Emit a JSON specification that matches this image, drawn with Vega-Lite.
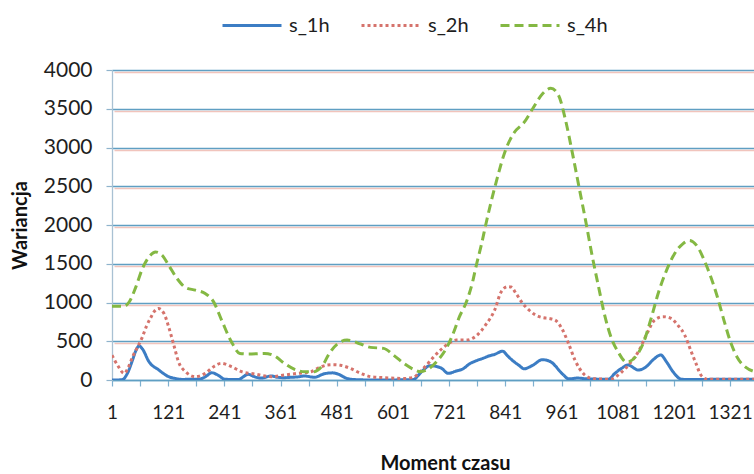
{
  "$schema": "https://vega.github.io/schema/vega-lite/v6.json",
  "width": 642,
  "height": 310,
  "autosize": {"type": "none"},
  "padding": {"left": 112, "top": 70, "right": 0, "bottom": 94},
  "background": "white",
  "config": {"view": {"stroke": null}, "font": "Lato"},
  "datasets": {
    "series": [
      {"s":"s_1h","t":1,"v":0},{"s":"s_1h","t":10,"v":0},{"s":"s_1h","t":23,"v":5},{"s":"s_1h","t":35,"v":100},{"s":"s_1h","t":45,"v":260},{"s":"s_1h","t":52,"v":380},{"s":"s_1h","t":59,"v":440},{"s":"s_1h","t":66,"v":400},{"s":"s_1h","t":80,"v":236},{"s":"s_1h","t":101,"v":129},{"s":"s_1h","t":122,"v":43},{"s":"s_1h","t":136,"v":20},{"s":"s_1h","t":150,"v":8},{"s":"s_1h","t":186,"v":10},{"s":"s_1h","t":200,"v":40},{"s":"s_1h","t":214,"v":94},{"s":"s_1h","t":228,"v":60},{"s":"s_1h","t":242,"v":10},{"s":"s_1h","t":270,"v":5},{"s":"s_1h","t":292,"v":73},{"s":"s_1h","t":306,"v":40},{"s":"s_1h","t":320,"v":25},{"s":"s_1h","t":341,"v":52},{"s":"s_1h","t":355,"v":35},{"s":"s_1h","t":369,"v":30},{"s":"s_1h","t":383,"v":35},{"s":"s_1h","t":398,"v":40},{"s":"s_1h","t":412,"v":52},{"s":"s_1h","t":433,"v":35},{"s":"s_1h","t":454,"v":80},{"s":"s_1h","t":472,"v":92},{"s":"s_1h","t":482,"v":80},{"s":"s_1h","t":503,"v":20},{"s":"s_1h","t":520,"v":5},{"s":"s_1h","t":560,"v":0},{"s":"s_1h","t":645,"v":5},{"s":"s_1h","t":655,"v":60},{"s":"s_1h","t":666,"v":129},{"s":"s_1h","t":680,"v":185},{"s":"s_1h","t":694,"v":175},{"s":"s_1h","t":705,"v":150},{"s":"s_1h","t":719,"v":86},{"s":"s_1h","t":736,"v":116},{"s":"s_1h","t":750,"v":142},{"s":"s_1h","t":765,"v":210},{"s":"s_1h","t":779,"v":249},{"s":"s_1h","t":793,"v":279},{"s":"s_1h","t":807,"v":313},{"s":"s_1h","t":818,"v":330},{"s":"s_1h","t":835,"v":372},{"s":"s_1h","t":846,"v":310},{"s":"s_1h","t":856,"v":253},{"s":"s_1h","t":870,"v":190},{"s":"s_1h","t":881,"v":145},{"s":"s_1h","t":899,"v":188},{"s":"s_1h","t":920,"v":262},{"s":"s_1h","t":938,"v":235},{"s":"s_1h","t":948,"v":180},{"s":"s_1h","t":955,"v":130},{"s":"s_1h","t":966,"v":60},{"s":"s_1h","t":976,"v":15},{"s":"s_1h","t":996,"v":25},{"s":"s_1h","t":1014,"v":15},{"s":"s_1h","t":1061,"v":10},{"s":"s_1h","t":1075,"v":86},{"s":"s_1h","t":1089,"v":150},{"s":"s_1h","t":1103,"v":193},{"s":"s_1h","t":1125,"v":129},{"s":"s_1h","t":1142,"v":172},{"s":"s_1h","t":1156,"v":258},{"s":"s_1h","t":1173,"v":322},{"s":"s_1h","t":1185,"v":236},{"s":"s_1h","t":1199,"v":107},{"s":"s_1h","t":1217,"v":10},{"s":"s_1h","t":1240,"v":5},{"s":"s_1h","t":1300,"v":10},{"s":"s_1h","t":1359,"v":10},{"s":"s_1h","t":1372,"v":10},
      {"s":"s_2h","t":1,"v":320},{"s":"s_2h","t":14,"v":180},{"s":"s_2h","t":27,"v":86},{"s":"s_2h","t":35,"v":150},{"s":"s_2h","t":45,"v":300},{"s":"s_2h","t":56,"v":430},{"s":"s_2h","t":66,"v":557},{"s":"s_2h","t":75,"v":700},{"s":"s_2h","t":84,"v":807},{"s":"s_2h","t":92,"v":890},{"s":"s_2h","t":100,"v":923},{"s":"s_2h","t":112,"v":858},{"s":"s_2h","t":122,"v":686},{"s":"s_2h","t":133,"v":451},{"s":"s_2h","t":143,"v":236},{"s":"s_2h","t":158,"v":107},{"s":"s_2h","t":179,"v":43},{"s":"s_2h","t":200,"v":86},{"s":"s_2h","t":218,"v":172},{"s":"s_2h","t":234,"v":215},{"s":"s_2h","t":256,"v":172},{"s":"s_2h","t":278,"v":107},{"s":"s_2h","t":306,"v":77},{"s":"s_2h","t":341,"v":43},{"s":"s_2h","t":369,"v":64},{"s":"s_2h","t":398,"v":86},{"s":"s_2h","t":426,"v":107},{"s":"s_2h","t":445,"v":165},{"s":"s_2h","t":461,"v":193},{"s":"s_2h","t":475,"v":197},{"s":"s_2h","t":489,"v":190},{"s":"s_2h","t":510,"v":150},{"s":"s_2h","t":532,"v":86},{"s":"s_2h","t":553,"v":43},{"s":"s_2h","t":581,"v":30},{"s":"s_2h","t":624,"v":20},{"s":"s_2h","t":645,"v":35},{"s":"s_2h","t":659,"v":107},{"s":"s_2h","t":673,"v":193},{"s":"s_2h","t":687,"v":292},{"s":"s_2h","t":705,"v":400},{"s":"s_2h","t":722,"v":480},{"s":"s_2h","t":736,"v":515},{"s":"s_2h","t":758,"v":515},{"s":"s_2h","t":779,"v":570},{"s":"s_2h","t":800,"v":720},{"s":"s_2h","t":818,"v":900},{"s":"s_2h","t":832,"v":1136},{"s":"s_2h","t":846,"v":1205},{"s":"s_2h","t":853,"v":1200},{"s":"s_2h","t":864,"v":1115},{"s":"s_2h","t":878,"v":988},{"s":"s_2h","t":892,"v":900},{"s":"s_2h","t":906,"v":836},{"s":"s_2h","t":920,"v":805},{"s":"s_2h","t":934,"v":794},{"s":"s_2h","t":948,"v":770},{"s":"s_2h","t":962,"v":660},{"s":"s_2h","t":976,"v":470},{"s":"s_2h","t":990,"v":253},{"s":"s_2h","t":1008,"v":80},{"s":"s_2h","t":1020,"v":30},{"s":"s_2h","t":1033,"v":15},{"s":"s_2h","t":1065,"v":10},{"s":"s_2h","t":1089,"v":100},{"s":"s_2h","t":1107,"v":215},{"s":"s_2h","t":1125,"v":365},{"s":"s_2h","t":1142,"v":580},{"s":"s_2h","t":1160,"v":774},{"s":"s_2h","t":1178,"v":817},{"s":"s_2h","t":1195,"v":795},{"s":"s_2h","t":1209,"v":709},{"s":"s_2h","t":1224,"v":580},{"s":"s_2h","t":1238,"v":365},{"s":"s_2h","t":1248,"v":215},{"s":"s_2h","t":1259,"v":60},{"s":"s_2h","t":1273,"v":10},{"s":"s_2h","t":1359,"v":10},{"s":"s_2h","t":1372,"v":10},
      {"s":"s_4h","t":1,"v":953},{"s":"s_4h","t":27,"v":953},{"s":"s_4h","t":38,"v":1010},{"s":"s_4h","t":52,"v":1202},{"s":"s_4h","t":66,"v":1438},{"s":"s_4h","t":80,"v":1588},{"s":"s_4h","t":94,"v":1652},{"s":"s_4h","t":108,"v":1610},{"s":"s_4h","t":122,"v":1481},{"s":"s_4h","t":140,"v":1309},{"s":"s_4h","t":158,"v":1193},{"s":"s_4h","t":179,"v":1159},{"s":"s_4h","t":200,"v":1116},{"s":"s_4h","t":218,"v":1008},{"s":"s_4h","t":235,"v":773},{"s":"s_4h","t":256,"v":494},{"s":"s_4h","t":274,"v":343},{"s":"s_4h","t":292,"v":335},{"s":"s_4h","t":327,"v":343},{"s":"s_4h","t":348,"v":310},{"s":"s_4h","t":369,"v":215},{"s":"s_4h","t":391,"v":137},{"s":"s_4h","t":412,"v":107},{"s":"s_4h","t":433,"v":107},{"s":"s_4h","t":440,"v":125},{"s":"s_4h","t":454,"v":220},{"s":"s_4h","t":461,"v":300},{"s":"s_4h","t":482,"v":464},{"s":"s_4h","t":503,"v":515},{"s":"s_4h","t":532,"v":464},{"s":"s_4h","t":553,"v":421},{"s":"s_4h","t":581,"v":408},{"s":"s_4h","t":602,"v":322},{"s":"s_4h","t":624,"v":215},{"s":"s_4h","t":645,"v":137},{"s":"s_4h","t":659,"v":107},{"s":"s_4h","t":673,"v":129},{"s":"s_4h","t":694,"v":236},{"s":"s_4h","t":715,"v":408},{"s":"s_4h","t":729,"v":590},{"s":"s_4h","t":743,"v":817},{"s":"s_4h","t":758,"v":1010},{"s":"s_4h","t":772,"v":1290},{"s":"s_4h","t":779,"v":1480},{"s":"s_4h","t":790,"v":1750},{"s":"s_4h","t":800,"v":2026},{"s":"s_4h","t":821,"v":2545},{"s":"s_4h","t":842,"v":2976},{"s":"s_4h","t":860,"v":3193},{"s":"s_4h","t":881,"v":3323},{"s":"s_4h","t":899,"v":3496},{"s":"s_4h","t":920,"v":3690},{"s":"s_4h","t":938,"v":3764},{"s":"s_4h","t":955,"v":3668},{"s":"s_4h","t":969,"v":3366},{"s":"s_4h","t":984,"v":2934},{"s":"s_4h","t":998,"v":2500},{"s":"s_4h","t":1012,"v":2069},{"s":"s_4h","t":1026,"v":1615},{"s":"s_4h","t":1040,"v":1204},{"s":"s_4h","t":1054,"v":815},{"s":"s_4h","t":1068,"v":530},{"s":"s_4h","t":1082,"v":360},{"s":"s_4h","t":1100,"v":230},{"s":"s_4h","t":1118,"v":292},{"s":"s_4h","t":1135,"v":467},{"s":"s_4h","t":1153,"v":810},{"s":"s_4h","t":1167,"v":1110},{"s":"s_4h","t":1185,"v":1412},{"s":"s_4h","t":1202,"v":1627},{"s":"s_4h","t":1220,"v":1757},{"s":"s_4h","t":1234,"v":1800},{"s":"s_4h","t":1252,"v":1714},{"s":"s_4h","t":1266,"v":1541},{"s":"s_4h","t":1280,"v":1326},{"s":"s_4h","t":1294,"v":1068},{"s":"s_4h","t":1308,"v":767},{"s":"s_4h","t":1322,"v":488},{"s":"s_4h","t":1336,"v":294},{"s":"s_4h","t":1354,"v":165},{"s":"s_4h","t":1372,"v":110}
    ],
    "gridvals": [{"v": 0}, {"v": 4000}]
  },
  "layer": [
    {
      "data": {"name": "gridvals"},
      "mark": {"type": "point", "opacity": 0},
      "encoding": {
        "y": {
          "field": "v", "type": "quantitative",
          "scale": {"domain": [0, 4000], "nice": false},
          "axis": {"orient": "right", "grid": true, "gridColor": "#f1c4bc", "gridWidth": 1.6, "translate": 2.5,
                   "labels": false, "ticks": false, "domain": false, "title": null,
                   "values": [500, 1000, 1500, 2000, 2500, 3000, 3500, 4000]}
        }
      }
    },
    {
      "data": {"name": "series"},
      "mark": {"type": "line", "strokeWidth": 3, "interpolate": "monotone", "clip": true},
      "encoding": {
        "x": {
          "field": "t", "type": "quantitative",
          "scale": {"domain": [1, 1372], "nice": false, "zero": false},
          "axis": {
            "values": [1, 61, 121, 181, 241, 301, 361, 421, 481, 541, 601, 661, 721, 781, 841, 901, 961, 1021, 1081, 1141, 1201, 1261, 1321],
            "format": "d",
            "labelExpr": "(datum.value - 1) % 120 == 0 ? datum.label : ''",
            "labelFlush": false, "labelOverlap": false,
            "labelFont": "Lato", "labelFontSize": 19, "labelColor": "#1e1e1e", "labelPadding": 17,
            "tickSize": 6, "tickColor": "#7fb0cf", "tickWidth": 1.2,
            "domainColor": "#5f9fc3", "domainWidth": 1.3,
            "grid": false,
            "title": "Moment czasu", "titleFont": "Lato", "titleFontSize": 20, "titleFontWeight": "bold", "titleColor": "#111",
            "titleX": 333, "titleY": 73, "titleBaseline": "top", "titleAlign": "center", "titleAnchor": null
          }
        },
        "y": {
          "field": "v", "type": "quantitative",
          "scale": {"domain": [0, 4000], "nice": false},
          "axis": {
            "values": [0, 500, 1000, 1500, 2000, 2500, 3000, 3500, 4000],
            "format": "d",
            "labelFont": "Lato", "labelFontSize": 21, "labelColor": "#1e1e1e", "labelPadding": 14,
            "tickSize": 6, "tickColor": "#8fb3cc", "tickWidth": 1.2,
            "domainColor": "#a9c1d3", "domainWidth": 1.3,
            "grid": true, "gridColor": "#5f9fc3", "gridWidth": 1.3,
            "title": "Wariancja", "titleFont": "Lato", "titleFontSize": 20, "titleFontWeight": "bold", "titleColor": "#111",
            "titleX": -92, "titleY": 155, "titleAngle": -90, "titleAlign": "center", "titleBaseline": "middle"
          }
        },
        "color": {
          "field": "s", "type": "nominal",
          "scale": {"domain": ["s_1h", "s_2h", "s_4h"], "range": ["#3c7dc4", "#d5736c", "#84b843"]},
          "legend": {"title": null, "orient": "none", "legendX": 109, "legendY": -75.5, "direction": "horizontal",
                     "symbolType": "stroke", "symbolSize": 3481, "symbolStrokeWidth": 3,
                     "labelFont": "Lato", "labelFontSize": 20, "labelColor": "#1e1e1e",
                     "columnPadding": 25, "labelOffset": 6, "padding": 0}
        },
        "strokeDash": {
          "field": "s", "type": "nominal",
          "scale": {"domain": ["s_1h", "s_2h", "s_4h"], "range": [[1, 0], [3, 3], [9, 5]]},
          "legend": {"title": null, "orient": "none", "legendX": 109, "legendY": -75.5, "direction": "horizontal",
                     "symbolType": "stroke", "symbolSize": 3481, "symbolStrokeWidth": 3,
                     "labelFont": "Lato", "labelFontSize": 20, "labelColor": "#1e1e1e",
                     "columnPadding": 25, "labelOffset": 6, "padding": 0}
        }
      }
    }
  ],
  "resolve": {"axis": {"y": "independent"}}
}
